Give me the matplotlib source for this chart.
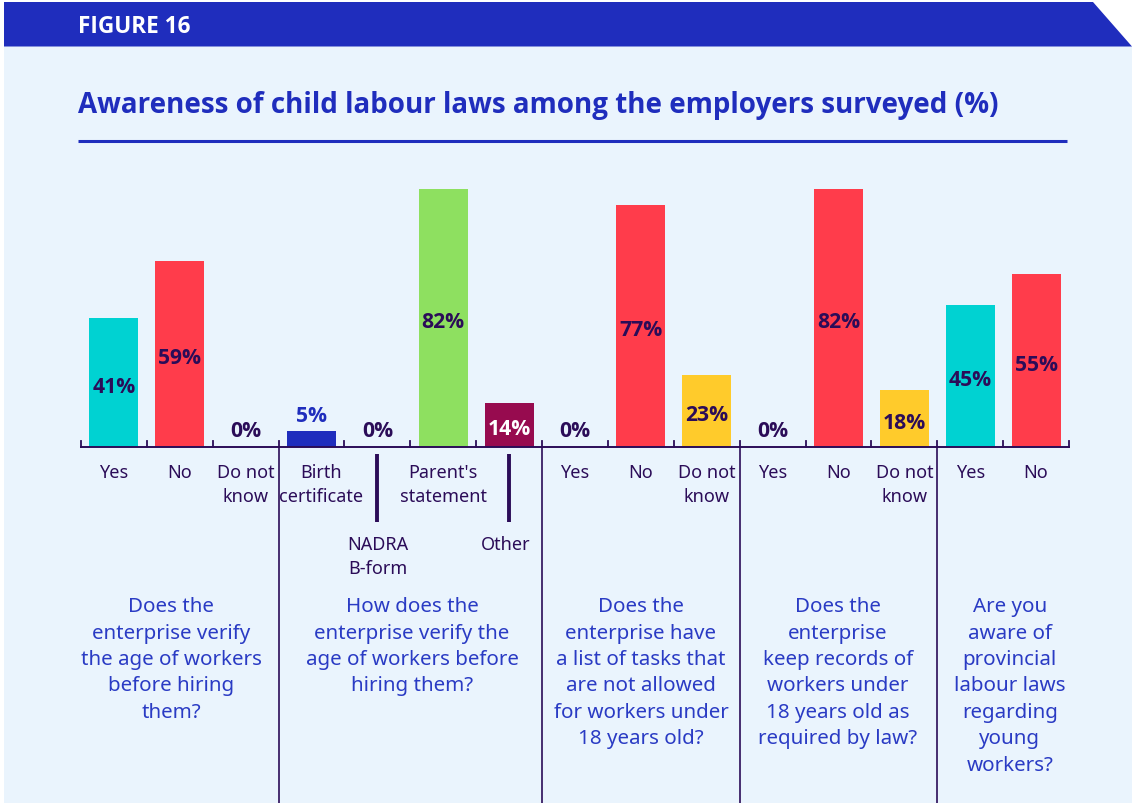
import numpy as np
import matplotlib.pyplot as plt
from matplotlib import font_manager
from matplotlib.font_manager import FontProperties
from matplotlib.patches import Polygon, Rectangle

plt.rcParams['font.family'] = ['Noto Sans', 'DejaVu Sans']

# survey answers, one bar per answer
labels = ['Yes', 'No', 'Do not\nknow',
          'Birth\ncertificate', '', "Parent's\nstatement", '',
          'Yes', 'No', 'Do not\nknow',
          'Yes', 'No', 'Do not\nknow',
          'Yes', 'No']
values = [41, 59, 0,
          5, 0, 82, 14,
          0, 77, 23,
          0, 82, 18,
          45, 55]
group_sizes = [3, 4, 3, 3, 2]
questions = ['Does the\nenterprise verify\nthe age of workers\nbefore hiring\nthem?',
             'How does the\nenterprise verify the\nage of workers before\nhiring them?',
             'Does the\nenterprise have\na list of tasks that\nare not allowed\nfor workers under\n18 years old?',
             'Does the\nenterprise\nkeep records of\nworkers under\n18 years old as\nrequired by law?',
             'Are you\naware of\nprovincial\nlabour laws\nregarding\nyoung\nworkers?']
# answers whose labels hang below a leader line
low_labels = {4: 'NADRA\nB-form', 6: 'Other'}

CYAN = '#00d2d2'
RED = '#ff3c4b'
YELLOW = '#ffcb2b'
BLUE = '#1f2dbd'
GREEN = '#8ee060'
MAROON = '#970b4f'
DARK = '#2b0c58'
QBLUE = '#2a3bc4'
BG = '#eaf4fd'

bar_colors = [CYAN, RED, YELLOW,
              BLUE, BLUE, GREEN, MAROON,
              CYAN, RED, YELLOW,
              CYAN, RED, YELLOW,
              CYAN, RED]


def bold_font():
    # first sans family that really ships a bold face
    for fam in ['Open Sans', 'Noto Sans', 'Inter', 'Lato', 'Roboto', 'Liberation Sans', 'DejaVu Sans']:
        for f in font_manager.fontManager.ttflist:
            if f.name == fam and f.style == 'normal' and f.weight in (700, 'bold') and f.stretch == 'normal':
                return f.fname
    return None


bpath = bold_font()


def bfont(size):
    if bpath:
        return FontProperties(fname=bpath, size=size)
    return FontProperties(family='DejaVu Sans', weight='bold', size=size)


W, H = 1132, 804
fig = plt.figure(figsize=(W / 100, H / 100), dpi=100)
fig.patch.set_facecolor('white')

# background layer in pixel units
bg = fig.add_axes([0, 0, 1, 1])
bg.set_xlim(0, W)
bg.set_ylim(H, 0)
bg.axis('off')
bg.add_patch(Rectangle((4, 47), W - 4, H - 47, color=BG, lw=0))
bg.add_patch(Polygon([(4, 3), (1093, 3), (1132, 47.5), (4, 47.5)], closed=True, color=BLUE, lw=0))
bg.text(78, 27, 'FIGURE 16', color='white', fontproperties=bfont(16.3), va='center', ha='left')
bg.text(78, 105, 'Awareness of child labour laws among the employers surveyed (%)', color=BLUE,
        fontproperties=bfont(20.0), va='center', ha='left')
bg.plot([78, 1067], [141.5, 141.5], color=BLUE, lw=2.2, solid_capstyle='butt')

# chart layer: x in slots, y in percent
slot = 65.87
unit = 3.146
x0, base = 81, 448
ax = fig.add_axes([0, 0, 1, 1])
ax.patch.set_alpha(0)
ax.set_xlim(-x0 / slot, (W - x0) / slot)
ax.set_ylim(-(H - base) / unit, base / unit)
ax.axis('off')

n = len(values)
xs = np.arange(n) + 0.5
ax.bar(xs, values, width=0.745, color=bar_colors, zorder=2)

# baseline with small upward ticks
ax.plot([0, n], [0, 0], color=DARK, lw=1.4, zorder=3)
for b in range(n + 1):
    ax.plot([b, b], [0, 1.9], color=DARK, lw=1.3, zorder=3)

# group separators
edges = np.cumsum(group_sizes)
for e in edges[:-1]:
    ax.plot([e, e], [0, -(H - base) / unit], color=DARK, lw=1.2, zorder=3)

for i, (x, v) in enumerate(zip(xs, values)):
    txt = f'{v}%'
    if v >= 10:
        col = 'white' if bar_colors[i] == MAROON else DARK
        ax.text(x, v / 2 - 1.2, txt, ha='center', va='center', fontproperties=bfont(15.2),
                color=col, zorder=4)
    else:
        col = BLUE if v > 0 else DARK
        ax.text(x, v + 5.1, txt, ha='center', va='center', fontproperties=bfont(15.2),
                color=col, zorder=4)
    if labels[i]:
        # the long "certificate" word sits a little to the right
        lx = x + 0.15 if labels[i].startswith('Birth') else x
        ax.text(lx, -5.1, labels[i], ha='center', va='top', fontsize=13,
                color=DARK, linespacing=1.4)

for i, lab in low_labels.items():
    ax.plot([xs[i], xs[i]], [-2.2, -23.8], color=DARK, lw=2.8, solid_capstyle='butt')
    lx = xs[i] - 0.05 if lab == 'Other' else xs[i]
    ax.text(lx, -28.0, lab, ha='center', va='top', fontsize=13, color=DARK, linespacing=1.4)

q_centers = [1.366, 5.025, 8.5, 11.49, 14.1]
for qx, q in zip(q_centers, questions):
    ax.text(qx, -47.4, q, ha='center', va='top', fontsize=14.8, color=QBLUE, linespacing=1.43)

fig.savefig('out.png', dpi=100, facecolor=fig.get_facecolor())
